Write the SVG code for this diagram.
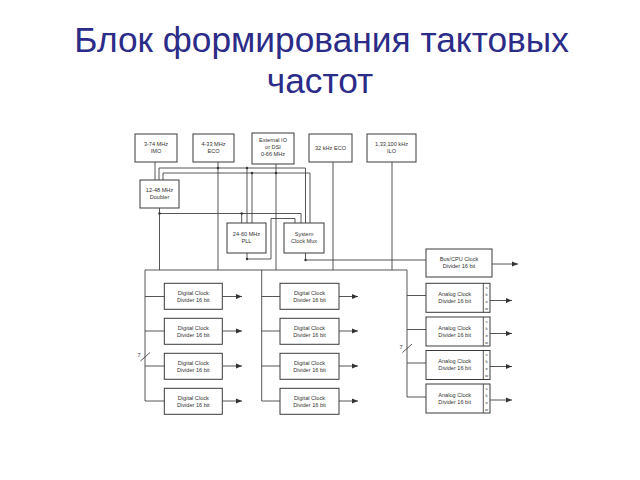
<svg xmlns="http://www.w3.org/2000/svg" width="640" height="480" viewBox="0 0 640 480">
<defs>
<style>
.title{font-family:"Liberation Sans",Arial,sans-serif;font-size:35.3px;fill:#2b2b88;text-anchor:middle}
.box{fill:#fff;stroke:#3a3a3a;stroke-width:1}
.t{font-family:"Liberation Sans",Arial,sans-serif;font-size:5.6px;fill:#333;text-anchor:middle}
.s{font-family:"Liberation Sans",Arial,sans-serif;font-size:4.4px;fill:#333;text-anchor:middle}
.w{fill:none;stroke:#444;stroke-width:0.9}
.dot{fill:#333}
</style>
<marker id="ah" viewBox="0 0 10 10" refX="10" refY="5" markerWidth="6" markerHeight="6" markerUnits="userSpaceOnUse" orient="auto">
<path d="M0,1 L10,5 L0,9 Z" fill="#333"/>
</marker>
</defs>
<rect width="640" height="480" fill="#fff"/>
<text class="title" x="321.5" y="52">Блок формирования тактовых</text>
<text class="title" x="320" y="93">частот</text>

<g id="connectors">
<path class="w" d="M155,162 V180"/>
<path class="w" d="M159,180 V168 H305.5 V223"/>
<path class="w" d="M163,180 V173 H310 V223"/>
<path class="w" d="M218,162 V270"/>
<path class="w" d="M276,164 V270"/>
<path class="w" d="M247,168 V223"/>
<path class="w" d="M252,173 V223"/>
<path class="w" d="M159.5,208 V270"/>
<path class="w" d="M159.5,213.5 H301 V223"/>
<path class="w" d="M241.7,213.5 V223"/>
<path class="w" d="M247,253 V259 H271 V218.5 H295 V223"/>
<path class="w" d="M305.5,253 V260 H426"/>
<path class="w" d="M333,162 V270"/>
<path class="w" d="M392,162 V270"/>
<path class="w" d="M145,401 V270 H407 V397"/>
<path class="w" d="M261.7,270 V401"/>
<path class="w" d="M145,296.5 H164.3 M145,331 H164.3 M145,366 H164.3 M145,401 H164.3"/>
<path class="w" d="M261.7,296.5 H280 M261.7,331 H280 M261.7,366 H280 M261.7,401 H280"/>
<path class="w" d="M407,295.5 H426 M407,329.5 H426 M407,363 H426 M407,397 H426"/>
<path class="w" marker-end="url(#ah)" d="M222.3,296.5 H242"/>
<path class="w" marker-end="url(#ah)" d="M222.3,331 H242"/>
<path class="w" marker-end="url(#ah)" d="M222.3,366 H242"/>
<path class="w" marker-end="url(#ah)" d="M222.3,401 H242"/>
<path class="w" marker-end="url(#ah)" d="M339,296.5 H358"/>
<path class="w" marker-end="url(#ah)" d="M339,331 H358"/>
<path class="w" marker-end="url(#ah)" d="M339,366 H358"/>
<path class="w" marker-end="url(#ah)" d="M339,401 H358"/>
<path class="w" marker-end="url(#ah)" d="M492,264 H518"/>
<path class="w" marker-end="url(#ah)" d="M490,300.5 H512"/>
<path class="w" marker-end="url(#ah)" d="M490,333.5 H512"/>
<path class="w" marker-end="url(#ah)" d="M490,366.5 H512"/>
<path class="w" marker-end="url(#ah)" d="M490,400 H512"/>
<path class="w" d="M140.5,361 L150,352.5"/>
<path class="w" d="M402.5,352.5 L412,344"/>
<text class="t" x="139" y="357">7</text>
<text class="t" x="401" y="348.5">7</text>
<circle class="dot" cx="218" cy="168" r="1.2"/>
<circle class="dot" cx="247" cy="168" r="1.2"/>
<circle class="dot" cx="252" cy="173" r="1.2"/>
<circle class="dot" cx="276" cy="173" r="1.2"/>
<circle class="dot" cx="159.5" cy="213.5" r="1.2"/>
<circle class="dot" cx="241.7" cy="213.5" r="1.2"/>
<circle class="dot" cx="247" cy="259" r="1.2"/>
<circle class="dot" cx="305.5" cy="260" r="1.2"/>
</g>

<g id="imo"><rect class="box" x="135" y="134" width="42" height="28"/><text class="t" x="156" y="146">3-74 MHz</text><text class="t" x="156" y="153">IMO</text></g>
<g id="eco"><rect class="box" x="193" y="134" width="41" height="28"/><text class="t" x="213.5" y="146">4-33 MHz</text><text class="t" x="213.5" y="153">ECO</text></g>
<g id="extio"><rect class="box" x="252" y="133" width="42" height="31"/><text class="t" x="273" y="142">External IO</text><text class="t" x="273" y="149">or DSI</text><text class="t" x="273" y="156">0-66 MHz</text></g>
<g id="eco32"><rect class="box" x="309" y="134" width="43" height="28"/><text class="t" x="330.5" y="150">32 kHz ECO</text></g>
<g id="ilo"><rect class="box" x="367" y="134" width="49" height="28"/><text class="t" x="391.5" y="146">1,33,100 kHz</text><text class="t" x="391.5" y="153">ILO</text></g>
<g id="doubler"><rect class="box" x="140" y="180" width="39" height="28"/><text class="t" x="159.5" y="192">12-48 MHz</text><text class="t" x="159.5" y="199">Doubler</text></g>
<g id="pll"><rect class="box" x="227" y="223" width="39" height="30"/><text class="t" x="246.5" y="236">24-60 MHz</text><text class="t" x="246.5" y="243">PLL</text></g>
<g id="mux"><rect class="box" x="284" y="223" width="40" height="30"/><text class="t" x="304" y="236">System</text><text class="t" x="304" y="243">Clock Mux</text></g>
<g id="buscpu"><rect class="box" x="426" y="249" width="66" height="28"/><text class="t" x="459" y="261">Bus/CPU Clock</text><text class="t" x="459" y="268">Divider 16 bit</text></g>

<g id="dcd1a"><rect class="box" x="164.3" y="283.3" width="58" height="26"/><text class="t" x="193.3" y="294.5">Digital Clock</text><text class="t" x="193.3" y="301.5">Divider 16 bit</text></g>
<g id="dcd1b"><rect class="box" x="164.3" y="318.3" width="58" height="26"/><text class="t" x="193.3" y="329.5">Digital Clock</text><text class="t" x="193.3" y="336.5">Divider 16 bit</text></g>
<g id="dcd1c"><rect class="box" x="164.3" y="353.3" width="58" height="26"/><text class="t" x="193.3" y="364.5">Digital Clock</text><text class="t" x="193.3" y="371.5">Divider 16 bit</text></g>
<g id="dcd1d"><rect class="box" x="164.3" y="388.3" width="58" height="26"/><text class="t" x="193.3" y="399.5">Digital Clock</text><text class="t" x="193.3" y="406.5">Divider 16 bit</text></g>

<g id="dcd2a"><rect class="box" x="280" y="283.3" width="59" height="26"/><text class="t" x="309.5" y="294.5">Digital Clock</text><text class="t" x="309.5" y="301.5">Divider 16 bit</text></g>
<g id="dcd2b"><rect class="box" x="280" y="318.3" width="59" height="26"/><text class="t" x="309.5" y="329.5">Digital Clock</text><text class="t" x="309.5" y="336.5">Divider 16 bit</text></g>
<g id="dcd2c"><rect class="box" x="280" y="353.3" width="59" height="26"/><text class="t" x="309.5" y="364.5">Digital Clock</text><text class="t" x="309.5" y="371.5">Divider 16 bit</text></g>
<g id="dcd2d"><rect class="box" x="280" y="388.3" width="59" height="26"/><text class="t" x="309.5" y="399.5">Digital Clock</text><text class="t" x="309.5" y="406.5">Divider 16 bit</text></g>

<g id="acd1"><rect class="box" x="426" y="283.3" width="64" height="29"/><line class="w" x1="483.3" y1="283.3" x2="483.3" y2="312.3"/><text class="t" x="454.7" y="296">Analog Clock</text><text class="t" x="454.7" y="303">Divider 16 bit</text><text class="s" x="486.7" y="289">s</text><text class="s" x="486.7" y="296">k</text><text class="s" x="486.7" y="303">e</text><text class="s" x="486.7" y="310">w</text></g>
<g id="acd2"><rect class="box" x="426" y="317" width="64" height="29"/><line class="w" x1="483.3" y1="317" x2="483.3" y2="346"/><text class="t" x="454.7" y="329.5">Analog Clock</text><text class="t" x="454.7" y="336.5">Divider 16 bit</text><text class="s" x="486.7" y="322.7">s</text><text class="s" x="486.7" y="329.7">k</text><text class="s" x="486.7" y="336.7">e</text><text class="s" x="486.7" y="343.7">w</text></g>
<g id="acd3"><rect class="box" x="426" y="350.5" width="64" height="29"/><line class="w" x1="483.3" y1="350.5" x2="483.3" y2="379.5"/><text class="t" x="454.7" y="363">Analog Clock</text><text class="t" x="454.7" y="370">Divider 16 bit</text><text class="s" x="486.7" y="356.2">s</text><text class="s" x="486.7" y="363.2">k</text><text class="s" x="486.7" y="370.2">e</text><text class="s" x="486.7" y="377.2">w</text></g>
<g id="acd4"><rect class="box" x="426" y="384" width="64" height="29"/><line class="w" x1="483.3" y1="384" x2="483.3" y2="413"/><text class="t" x="454.7" y="396.5">Analog Clock</text><text class="t" x="454.7" y="403.5">Divider 16 bit</text><text class="s" x="486.7" y="389.7">s</text><text class="s" x="486.7" y="396.7">k</text><text class="s" x="486.7" y="403.7">e</text><text class="s" x="486.7" y="410.7">w</text></g>
</svg>
